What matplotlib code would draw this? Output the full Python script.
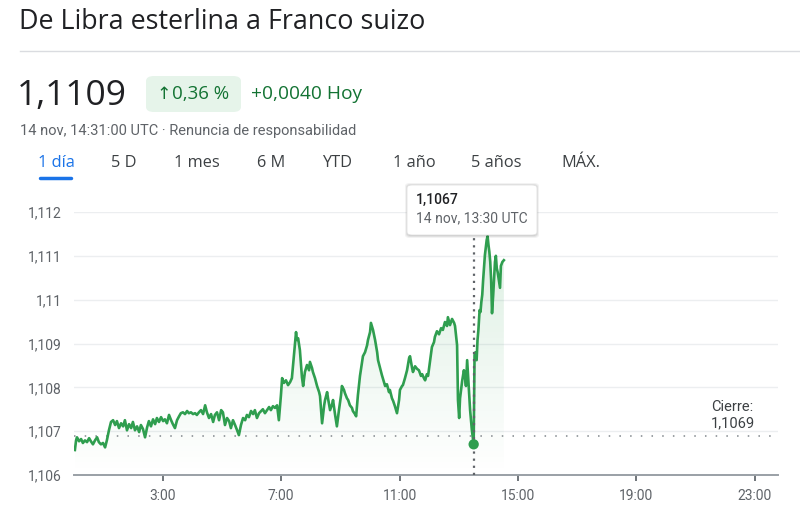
import numpy as np
import matplotlib.pyplot as plt
from matplotlib.patches import FancyBboxPatch, Polygon
from matplotlib.lines import Line2D

plt.rcParams['font.family'] = ['Roboto', 'DejaVu Sans']

# Intraday GBP/CHF quotes (hour of day, price)
hours = [0.03, 0.07, 0.10, 0.17, 0.24, 0.30, 0.37, 0.44, 0.51, 0.57, 0.64, 0.71, 0.78, 0.84, 0.91, 0.98,
         1.05, 1.11, 1.18, 1.25, 1.32, 1.39, 1.45, 1.52, 1.59, 1.66, 1.72, 1.79, 1.86, 1.93, 1.99, 2.06,
         2.13, 2.20, 2.26, 2.33, 2.40, 2.47, 2.53, 2.60, 2.67, 2.74, 2.80, 2.87, 2.94, 3.01, 3.07, 3.14,
         3.21, 3.28, 3.34, 3.41, 3.48, 3.55, 3.61, 3.68, 3.75, 3.82, 3.88, 3.95, 4.02, 4.09, 4.15, 4.22,
         4.29, 4.36, 4.43, 4.49, 4.56, 4.63, 4.70, 4.76, 4.83, 4.90, 4.97, 5.03, 5.10, 5.17, 5.24, 5.30,
         5.37, 5.44, 5.51, 5.57, 5.64, 5.71, 5.78, 5.84, 5.91, 5.98, 6.05, 6.11, 6.18, 6.25, 6.32, 6.38,
         6.45, 6.52, 6.59, 6.65, 6.72, 6.79, 6.86, 6.92, 6.99, 7.03, 7.09, 7.16, 7.23, 7.30, 7.36, 7.43,
         7.50, 7.53, 7.57, 7.63, 7.70, 7.74, 7.80, 7.87, 7.94, 7.97, 8.04, 8.07, 8.14, 8.21, 8.28, 8.31,
         8.38, 8.45, 8.48, 8.55, 8.58, 8.65, 8.72, 8.75, 8.82, 8.88, 8.95, 9.02, 9.05, 9.12, 9.15, 9.22,
         9.26, 9.32, 9.39, 9.42, 9.49, 9.53, 9.59, 9.66, 9.73, 9.76, 9.83, 9.90, 9.93, 10.00, 10.03, 10.10,
         10.17, 10.24, 10.27, 10.34, 10.40, 10.47, 10.51, 10.57, 10.64, 10.67, 10.74, 10.78, 10.84, 10.91,
         10.98, 11.01, 11.08, 11.11, 11.18, 11.25, 11.32, 11.35, 11.42, 11.45, 11.52, 11.59, 11.65, 11.72,
         11.76, 11.82, 11.86, 11.92, 11.96, 12.03, 12.09, 12.16, 12.19, 12.26, 12.33, 12.40, 12.46, 12.53,
         12.60, 12.63, 12.70, 12.77, 12.84, 12.87, 12.94, 12.97, 13.01, 13.04, 13.11, 13.17, 13.21, 13.24,
         13.28, 13.31, 13.34, 13.38, 13.44, 13.50, 13.53, 13.56, 13.60, 13.63, 13.66, 13.70, 13.73, 13.76,
         13.79, 13.82, 13.85, 13.88, 13.91, 13.94, 13.97, 14.00, 14.03, 14.06, 14.09, 14.12, 14.16, 14.19,
         14.22, 14.25, 14.28, 14.31, 14.35, 14.39, 14.42, 14.47, 14.52]
prices = [1.10657, 1.10679, 1.10686, 1.10677, 1.10682, 1.10673, 1.10679, 1.10675, 1.10684, 1.10677, 1.10670,
          1.10679, 1.10686, 1.10675, 1.10670, 1.10673, 1.10663, 1.10679, 1.10702, 1.10721, 1.10725, 1.10714,
          1.10723, 1.10707, 1.10718, 1.10711, 1.10725, 1.10702, 1.10716, 1.10707, 1.10721, 1.10702, 1.10711,
          1.10698, 1.10714, 1.10705, 1.10686, 1.10709, 1.10723, 1.10711, 1.10727, 1.10716, 1.10730, 1.10721,
          1.10732, 1.10723, 1.10727, 1.10718, 1.10737, 1.10725, 1.10716, 1.10707, 1.10725, 1.10734, 1.10741,
          1.10743, 1.10739, 1.10746, 1.10741, 1.10743, 1.10739, 1.10741, 1.10737, 1.10743, 1.10748, 1.10739,
          1.10759, 1.10743, 1.10730, 1.10739, 1.10721, 1.10737, 1.10743, 1.10725, 1.10748, 1.10743, 1.10714,
          1.10730, 1.10723, 1.10707, 1.10725, 1.10714, 1.10702, 1.10691, 1.10714, 1.10730, 1.10725, 1.10737,
          1.10732, 1.10746, 1.10739, 1.10748, 1.10730, 1.10741, 1.10746, 1.10750, 1.10741, 1.10748, 1.10755,
          1.10748, 1.10757, 1.10753, 1.10759, 1.10725, 1.10782, 1.10821, 1.10810, 1.10816, 1.10805, 1.10812,
          1.10821, 1.10874, 1.10926, 1.10908, 1.10912, 1.10885, 1.10823, 1.10803, 1.10835, 1.10851, 1.10839,
          1.10858, 1.10844, 1.10835, 1.10821, 1.10803, 1.10789, 1.10780, 1.10718, 1.10759, 1.10771, 1.10789,
          1.10775, 1.10748, 1.10762, 1.10771, 1.10737, 1.10711, 1.10748, 1.10782, 1.10803, 1.10794, 1.10787,
          1.10775, 1.10771, 1.10759, 1.10753, 1.10746, 1.10739, 1.10734, 1.10782, 1.10826, 1.10858, 1.10871,
          1.10880, 1.10896, 1.10908, 1.10926, 1.10947, 1.10931, 1.10908, 1.10880, 1.10862, 1.10844, 1.10828,
          1.10812, 1.10803, 1.10807, 1.10789, 1.10794, 1.10775, 1.10769, 1.10757, 1.10741, 1.10771, 1.10794,
          1.10803, 1.10805, 1.10821, 1.10839, 1.10867, 1.10871, 1.10844, 1.10835, 1.10848, 1.10842, 1.10839,
          1.10826, 1.10830, 1.10821, 1.10816, 1.10830, 1.10826, 1.10862, 1.10892, 1.10903, 1.10915, 1.10928,
          1.10921, 1.10935, 1.10931, 1.10949, 1.10940, 1.10960, 1.10942, 1.10956, 1.10947, 1.10940, 1.10896,
          1.10771, 1.10730, 1.10775, 1.10814, 1.10839, 1.10821, 1.10803, 1.10862, 1.10828, 1.10794, 1.10748,
          1.10702, 1.10670, 1.10874, 1.10880, 1.10862, 1.10908, 1.10931, 1.10976, 1.10972, 1.10995, 1.11011,
          1.11045, 1.11072, 1.11102, 1.11120, 1.11136, 1.11145, 1.11125, 1.11109, 1.11086, 1.11045, 1.10969,
          1.11011, 1.11049, 1.11086, 1.11100, 1.11072, 1.11063, 1.11045, 1.11027, 1.11077, 1.11086, 1.11090]

y_ticks = [1.106, 1.107, 1.108, 1.109, 1.110, 1.111, 1.112]
y_labels = ['1,106', '1,107', '1,108', '1,109', '1,11', '1,111', '1,112']
x_ticks = [3, 7, 11, 15, 19, 23]
x_labels = ['3:00', '7:00', '11:00', '15:00', '19:00', '23:00']
close_price = 1.1069
hover_hour = 13.5
hover_price = 1.1067

tabs = ['1 día', '5 D', '1 mes', '6 M', 'YTD', '1 año', '5 años', 'MÁX.']
tab_x = [38, 111, 174, 257, 322, 393, 471, 561]

GREEN = '#2f9e4f'
W, H = 800, 516

fig = plt.figure(figsize=(8, 5.16), dpi=100)


def px(x, y):
    return x / W, 1 - y / H


def label(x, y, s, **kw):
    fx, fy = px(x, y)
    fig.text(fx, fy, s, va='center', **kw)


# header
label(19, 22, 'De Libra esterlina a Franco suizo', fontsize=19.4, color='#202124', family='Open Sans')
fig.add_artist(Line2D([20 / W, 1], [1 - 51 / H] * 2, color='#dadce0', lw=1))
label(17, 96, '1,1109', fontsize=25.5, color='#202124', family='Open Sans')
bx, by = px(146, 112)
fig.add_artist(FancyBboxPatch((bx, by), 95 / W, 36 / H, boxstyle='round,pad=0,rounding_size=0.01',
                              transform=fig.transFigure, fc='#e6f4ea', ec='none'))
label(156, 94, '↑', fontsize=12.5, color='#137333', family=['DejaVu Sans'])
label(172, 94, '0,36 %', fontsize=13.5, color='#137333', family='Open Sans')
label(251, 94, '+0,0040 Hoy', fontsize=13.8, color='#137333', family='Open Sans')
label(20, 131, '14 nov, 14:31:00 UTC · Renuncia de responsabilidad', fontsize=10.5, color='#5f6368')
for t, x in zip(tabs, tab_x):
    label(x, 163, t, fontsize=11.8, color='#1a73e8' if t == '1 día' else '#3c4043', family='Open Sans')
fig.add_artist(Line2D([40 / W, 71 / W], [1 - 177.5 / H] * 2, color='#1a73e8', lw=2.5,
                      solid_capstyle='round'))

# chart
ax = fig.add_axes([74 / W, 1 - 475 / H, 704 / W, 263 / H])
ax.set_xlim(0, 23.78)
ax.set_ylim(1.106, 1.112)

# gradient fill under the line
grad = np.zeros((100, 2, 4))
grad[..., 0] = 0.18
grad[..., 1] = 0.62
grad[..., 2] = 0.31
grad[..., 3] = np.linspace(0.0, 0.18, 100)[:, None]
img = ax.imshow(grad, extent=(hours[0], hours[-1], 1.106, 1.112), origin='lower',
                aspect='auto', zorder=1)
poly = Polygon(list(zip(hours, prices)) + [(hours[-1], 1.106), (hours[0], 1.106)],
               closed=True, transform=ax.transData, fc='none', ec='none')
ax.add_patch(poly)
img.set_clip_path(poly)

ax.plot(hours, prices, color=GREEN, lw=1.9, zorder=3)

ax.set_yticks(y_ticks)
ax.set_yticklabels(y_labels)
ax.set_xticks(x_ticks)
ax.set_xticklabels(x_labels)
ax.grid(axis='y', color='#eceef0', lw=1)
ax.set_axisbelow(True)
for s in ['top', 'right', 'left']:
    ax.spines[s].set_visible(False)
ax.spines['bottom'].set_color('#9aa0a6')
ax.spines['bottom'].set_linewidth(1.4)
ax.tick_params(axis='y', length=0, pad=9, labelsize=10, labelcolor='#5f6368')
ax.tick_params(axis='x', length=4, width=1.4, color='#70757a', pad=6, labelsize=10,
               labelcolor='#5f6368')

# previous close
ax.axhline(close_price, color='#80868b', lw=1.1, ls=(0, (1, 6)), zorder=2)
ax.text(21.52, close_price + 0.00012, 'Cierre:\n1,1069', fontsize=10.5, color='#3c4043',
        va='bottom', ha='left', linespacing=1.2)

# hover marker and tooltip
ax.vlines(hover_hour, 1.106, 1.11147, colors='#5f6368', lw=1.6, linestyles=(0, (1, 2.2)), zorder=4)
ax.scatter([hover_hour], [hover_price], s=55, color=GREEN, zorder=5, edgecolors='none')

tx, ty = px(407, 235)
for off, a in [(3, 0.05), (2, 0.07), (1, 0.09)]:
    sx, sy = px(407 - off + 1, 235 + off)
    fig.add_artist(FancyBboxPatch((sx, sy), (130 + 2 * off - 2) / W, (50 + 2 * off - 1) / H,
                                  boxstyle='round,pad=0,rounding_size=0.006',
                                  transform=fig.transFigure, fc=(0, 0, 0, a), ec='none'))
fig.add_artist(FancyBboxPatch((tx, ty), 130 / W, 50 / H, boxstyle='round,pad=0,rounding_size=0.006',
                              transform=fig.transFigure, fc='white', ec='#e0e0e0', lw=0.6))
label(416, 200, '1,1067', fontsize=10, color='#202124', fontweight='medium')
label(416, 218, '14 nov, 13:30 UTC', fontsize=10, color='#5f6368')

fig.savefig('out.png', dpi=100)
